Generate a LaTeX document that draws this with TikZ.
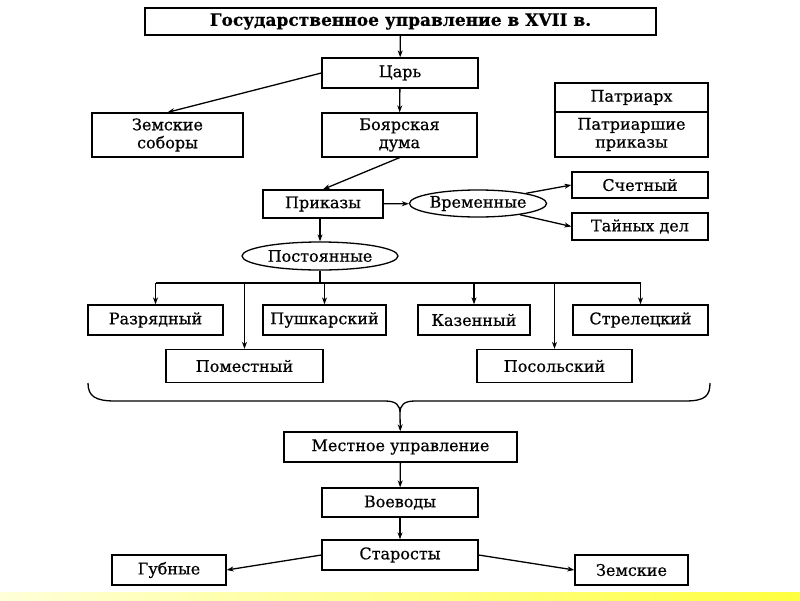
\documentclass[tikz,border=0pt]{standalone}
\usepackage{fontspec}
\setmainfont{DejaVu Serif}[FakeBold=0.6]
\usetikzlibrary{arrows.meta,shapes.geometric}
\begin{document}
\begin{tikzpicture}[x=1pt,y=-1pt,line width=1.3pt,
		every node/.style={font=\fontsize{16}{18}\selectfont, align=center, inner sep=0pt},
		box/.style={draw, rectangle},
		oval/.style={draw, ellipse},
		->/.style={-{Stealth[length=7pt,width=5pt]}}]
	\useasboundingbox (0,0) rectangle (800,600);
	\shade[left color=yellow!15, right color=yellow!75] (0,592) rectangle (800,600);
	% upper part
	\node[box, minimum width=511, minimum height=27, font=\fontsize{17}{19}\selectfont\bfseries] (title) at (400.5,21.5) {Государственное управление в XVII в.};
	\node[box, minimum width=156, minimum height=30] (tsar) at (400,73) {Царь};
	\node[box, minimum width=151, minimum height=44] (zemsob) at (167.5,135) {Земские\\соборы};
	\node[box, minimum width=155, minimum height=44] (duma) at (399.5,135) {Боярская\\дума};
	\node[box, minimum width=153, minimum height=29] (patr) at (631.5,97.5) {Патриарх};
	\node[box, minimum width=153, minimum height=45] (patrprik) at (631.5,134.5) {Патриаршие\\приказы};
	\node[box, minimum width=120, minimum height=28] (prikazy) at (323,204) {Приказы};
	\node[oval, minimum width=135, minimum height=27] (vrem) at (478,203.5) {Временные};
	\node[box, minimum width=136, minimum height=26] (schet) at (640,185) {Счетный};
	\node[box, minimum width=136, minimum height=27] (tayn) at (640,226.5) {Тайных дел};
	\node[oval, minimum width=156, minimum height=28] (post) at (320,256) {Постоянные};
	% prikazy
	\node[box, minimum width=135, minimum height=30] (razr) at (155.5,320) {Разрядный};
	\node[box, minimum width=123, minimum height=30] (push) at (324.5,320) {Пушкарский};
	\node[box, minimum width=112, minimum height=30] (kaz) at (474,320) {Казенный};
	\node[box, minimum width=135, minimum height=30] (strel) at (640.5,320) {Стрелецкий};
	\node[box, minimum width=157, minimum height=33] (pomest) at (244.5,366) {Поместный};
	\node[box, minimum width=155, minimum height=33] (posol) at (554.5,366) {Посольский};
	% local
	\node[box, minimum width=233, minimum height=30] (mestn) at (400.5,447) {Местное управление};
	\node[box, minimum width=156, minimum height=29] (voev) at (400,502.5) {Воеводы};
	\node[box, minimum width=156, minimum height=30] (star) at (400,555) {Старосты};
	\node[box, minimum width=114, minimum height=30] (gub) at (169,570) {Губные};
	\node[box, minimum width=113, minimum height=30] (zemsk) at (631.5,570) {Земские};
	\coordinate (bus) at (320,283);
	\coordinate (brace) at (400,413);

	\draw[->] (title) to (tsar);
	\draw[->] (tsar.west) to (zemsob.north);
	\draw[->] (tsar) to (duma);
	\draw[->] (duma.south) to (prikazy.north);
	\draw[->] (prikazy) to (vrem);
	\draw[->] (vrem.12) to (schet.west);
	\draw[->] (vrem.-15) to (tayn.west);
	\draw[->] (prikazy.south -| post) to (post);
	\draw (post) -- (bus);
	\draw (bus -| razr) -- (bus -| strel);
	\foreach \n in {razr,push,kaz,strel,pomest,posol}
		\draw[->] (bus -| \n) -- (\n.north);
	\draw (88,383) .. controls (88,396) and (95,401) .. (115,401) -- (385,401)
		.. controls (396,401) and (400,405) .. (brace)
		.. controls (400,405) and (404,401) .. (415,401) -- (685,401)
		.. controls (705,401) and (710,396) .. (710,383);
	\draw[->] (brace) to (mestn);
	\draw[->] (mestn) to (voev);
	\draw[->] (voev) to (star);
	\draw[->] (star.west) to (gub.east);
	\draw[->] (star.east) to (zemsk.west);
\end{tikzpicture}
\end{document}
